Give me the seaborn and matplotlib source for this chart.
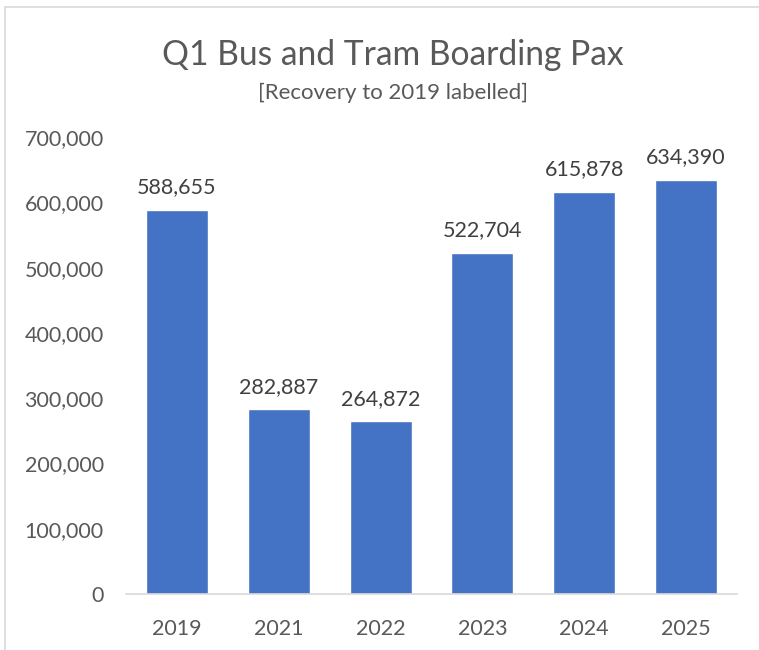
import matplotlib
matplotlib.use('Agg')
from matplotlib import pyplot as plt
from matplotlib.patches import Rectangle
import pandas as pd
import seaborn as sns

### DATA ###
years = ['2019', '2021', '2022', '2023', '2024', '2025']
boardings = [588655, 282887, 264872, 522704, 615878, 634390]
y_ticks = [0, 100000, 200000, 300000, 400000, 500000, 600000, 700000]

df = pd.DataFrame({'Year': years, 'Pax': boardings})

sns.set_style('white')
plt.rcParams['font.family'] = ['Lato', 'DejaVu Sans']

fig = plt.figure(figsize=(7.59, 6.5), dpi=100)
ax = fig.add_axes([0.166, 0.086, 0.805, 0.703])

sns.barplot(data=df, x='Year', y='Pax', color='#4472C4', width=0.61,
            saturation=1, ax=ax)

ax.set_ylim(0, 700000)
ax.set_yticks(y_ticks)
ax.set_yticklabels(['{:,}'.format(v) for v in y_ticks])
ax.set_xlabel('')
ax.set_ylabel('')
ax.tick_params(axis='both', length=0, labelsize=15.5, colors='#595959')
ax.tick_params(axis='y', pad=16)
ax.tick_params(axis='x', pad=18)

for s in ['top', 'right', 'left']:
    ax.spines[s].set_visible(False)
ax.spines['bottom'].set_color('#D9D9D9')
ax.spines['bottom'].set_linewidth(1.2)

# data labels
for i, v in enumerate(boardings):
    ax.annotate('{:,}'.format(v), (i, v), xytext=(0, 9), textcoords='offset points',
                ha='center', va='bottom', fontsize=15.5, color='#404040')

fig.text(0.518, 0.915, 'Q1 Bus and Tram Boarding Pax', ha='center', va='center',
         fontsize=24.2, color='#595959')
fig.text(0.518, 0.857, '[Recovery to 2019 labelled]', ha='center', va='center',
         fontsize=16, color='#595959')

# chart border (left and top edges visible)
fig.patches.append(Rectangle((0.007, -0.05), 1.1, 1.04, transform=fig.transFigure,
                             fill=False, edgecolor='#D9D9D9', linewidth=1.2))

fig.savefig('out.png', dpi=100)
